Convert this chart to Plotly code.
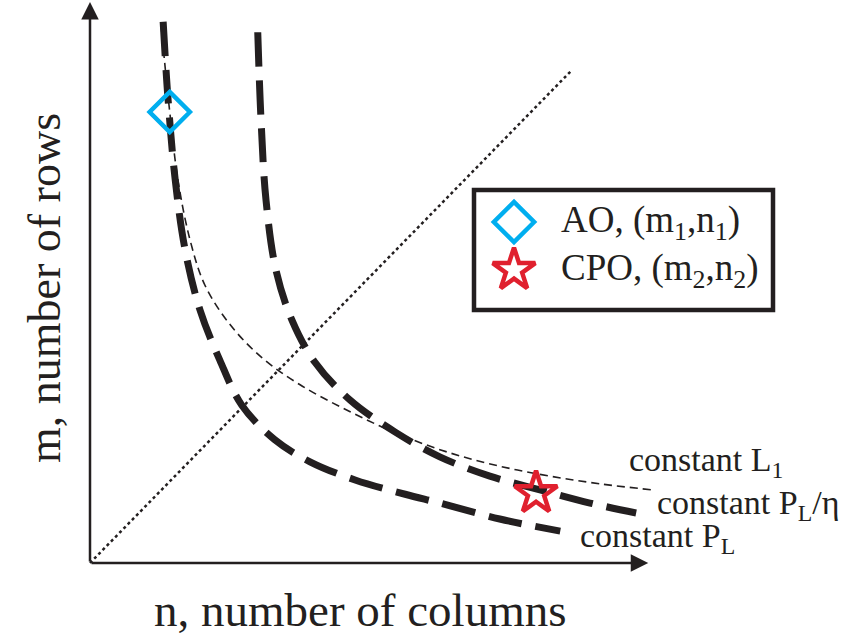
import plotly.graph_objects as go

# ---- data (n = columns, m = rows) ----
pl_n = [1.33, 1.42, 1.55, 1.73, 2.00, 2.36, 2.76, 3.36, 4.00, 4.82, 5.73, 6.36, 7.45, 8.55]
pl_m = [9.84, 8.42, 6.96, 5.69, 4.60, 3.69, 2.87, 2.24, 1.84, 1.51, 1.25, 1.09, 0.80, 0.58]

pleta_n = [3.05, 3.11, 3.20, 3.38, 3.67, 4.09, 4.73, 5.55, 6.36, 7.27, 8.18, 9.09, 9.93]
pleta_m = [9.65, 8.05, 6.60, 5.33, 4.42, 3.65, 2.96, 2.38, 1.93, 1.58, 1.33, 1.09, 0.91]

l1_n = [1.29, 1.45, 1.60, 1.82, 2.09, 2.55, 3.13, 3.82, 4.73, 5.64, 6.55, 7.45, 8.36, 9.27, 10.22]
l1_m = [9.80, 8.20, 6.96, 5.87, 5.05, 4.33, 3.73, 3.24, 2.75, 2.33, 2.00, 1.76, 1.58, 1.44, 1.33]

diag_n = [0.0, 8.76]
diag_m = [0.0, 8.96]

ao_n, ao_m = [1.45], [8.20]
cpo_n, cpo_m = [8.11], [1.27]

axis_end_n = 10.15
axis_end_m = 10.2

labels = ["constant L<sub>1</sub>", "constant P<sub>L</sub>/η", "constant P<sub>L</sub>"]
label_n = [9.76, 10.27, 8.87]
label_m = [1.84, 1.05, 0.45]

legend_names = ["AO, (m<sub>1</sub>,n<sub>1</sub>)", "CPO, (m<sub>2</sub>,n<sub>2</sub>)"]

W, H = 851, 642
BLACK = "#231f20"
BLUE = "#00aeef"
RED = "#e0202e"
FONT = "Liberation Serif, Times New Roman, serif"

fig = go.Figure()

# dotted diagonal
fig.add_trace(go.Scatter(x=diag_n, y=diag_m, mode="lines",
                         line=dict(color=BLACK, width=2.5, dash="3px,3px")))
# curves
fig.add_trace(go.Scatter(x=pl_n, y=pl_m, mode="lines", line_shape="spline",
                         line=dict(color=BLACK, width=7, dash="34px,14px")))
fig.add_trace(go.Scatter(x=pleta_n, y=pleta_m, mode="lines", line_shape="spline",
                         line=dict(color=BLACK, width=7, dash="34px,14px")))
fig.add_trace(go.Scatter(x=l1_n, y=l1_m, mode="lines", line_shape="spline",
                         line=dict(color=BLACK, width=1.6, dash="8px,5px")))
# operating points
fig.add_trace(go.Scatter(x=ao_n, y=ao_m, mode="markers",
                         marker=dict(symbol="diamond-open", size=31, color=BLUE,
                                     line=dict(color=BLUE, width=4.5))))
fig.add_trace(go.Scatter(x=cpo_n, y=cpo_m, mode="markers",
                         marker=dict(symbol="star-open", size=32, color=RED,
                                     line=dict(color=RED, width=4.5))))

# legend (pixel overlay axes)
leg_y = [222, 270]
fig.add_trace(go.Scatter(x=[514], y=[leg_y[0]], xaxis="x2", yaxis="y2", mode="markers",
                         marker=dict(symbol="diamond-open", size=31, color=BLUE,
                                     line=dict(color=BLUE, width=4.5))))
fig.add_trace(go.Scatter(x=[514], y=[leg_y[1]], xaxis="x2", yaxis="y2", mode="markers",
                         marker=dict(symbol="star-open", size=32, color=RED,
                                     line=dict(color=RED, width=4.5))))

ann = []
# axis arrows
ann.append(dict(x=axis_end_n, y=0, ax=0, ay=0, xref="x", yref="y", axref="x", ayref="y",
                showarrow=True, arrowhead=2, arrowsize=1.4, arrowwidth=2.5,
                arrowcolor=BLACK, text=""))
ann.append(dict(x=0, y=axis_end_m, ax=0, ay=0, xref="x", yref="y", axref="x", ayref="y",
                showarrow=True, arrowhead=2, arrowsize=1.4, arrowwidth=2.5,
                arrowcolor=BLACK, text=""))
# curve labels
for t, xn, ym in zip(labels, label_n, label_m):
    ann.append(dict(x=xn, y=ym, xref="x", yref="y", text=t, showarrow=False,
                    xanchor="left", yanchor="middle",
                    font=dict(family=FONT, size=34, color=BLACK)))
# legend texts
for t, yy in zip(legend_names, leg_y):
    ann.append(dict(x=559, y=yy, xref="x2", yref="y2", text=t, showarrow=False,
                    xanchor="left", yanchor="middle",
                    font=dict(family=FONT, size=37, color=BLACK)))
# axis titles
ann.append(dict(x=360 / W, y=1 - 610 / H, xref="paper", yref="paper",
                xanchor="center", yanchor="middle",
                text="n, number of columns", showarrow=False,
                font=dict(family=FONT, size=47, color=BLACK)))
ann.append(dict(x=44 / W, y=1 - 288 / H, xref="paper", yref="paper",
                xanchor="center", yanchor="middle",
                text="m, number of rows", showarrow=False, textangle=-90,
                font=dict(family=FONT, size=46, color=BLACK)))

shapes = [dict(type="rect", xref="paper", yref="paper",
               x0=474 / W, x1=773 / W, y0=1 - 310 / H, y1=1 - 190 / H,
               line=dict(color=BLACK, width=4.5), fillcolor="rgba(0,0,0,0)")]

S = 55.0
fig.update_layout(
    width=W, height=H, margin=dict(l=0, r=0, t=0, b=0),
    paper_bgcolor="white", plot_bgcolor="white", showlegend=False,
    xaxis=dict(range=[-90 / S, (W - 90) / S], visible=False, fixedrange=True),
    yaxis=dict(range=[-(H - 563) / S, 563 / S], visible=False, fixedrange=True),
    xaxis2=dict(range=[0, W], visible=False, overlaying="x", fixedrange=True),
    yaxis2=dict(range=[H, 0], visible=False, overlaying="y", fixedrange=True),
    annotations=ann, shapes=shapes,
)

fig.write_html("out.html")
